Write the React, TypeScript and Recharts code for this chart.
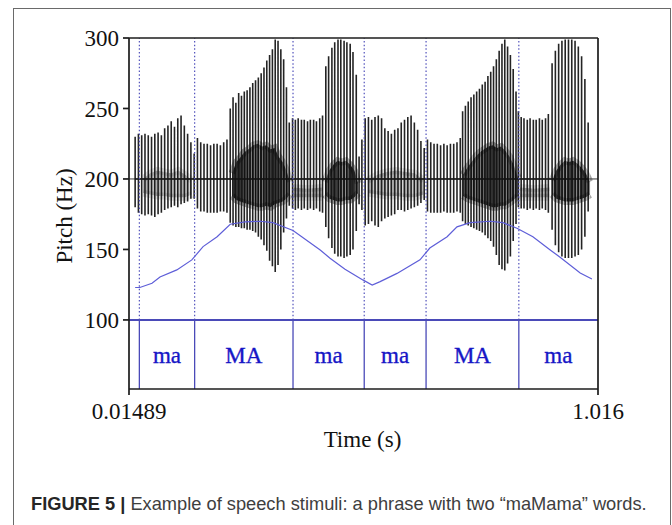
import React from 'react';
import {
  ComposedChart,
  Line,
  Area,
  XAxis,
  YAxis,
  ReferenceLine,
  ReferenceArea,
} from 'recharts';

// ---- axes ----
const timeStart = 0.01489;
const timeEnd = 1.016;
const xTickValues = [0.01489, 1.016];
const xTickLabels = ['0.01489', '1.016'];
const pitchTicks = [100, 150, 200, 250, 300];
const pitchTop = 300;
const pitchFloor = 51; // bottom of the tier strip, below the 100 Hz line
const tierLine = 100;
const waveZero = 200;

// ---- TextGrid tier (interval boundaries in s, labels) ----
const tierBounds = [0.037, 0.155, 0.365, 0.517, 0.649, 0.847];
const tierLabels = ['ma', 'MA', 'ma', 'ma', 'MA', 'ma'];

// ---- pitch contour (time in ms, F0 in Hz) ----
const contourMs = [
  28, 38, 64, 81, 117, 149, 173, 203, 231, 263, 295, 322, 365, 423, 444, 476,
  514, 534, 551, 587, 636, 657, 694, 715, 743, 786, 813, 843, 877, 914, 935, 978, 1003,
];
const contourHz = [
  123, 123, 126, 130.5, 135.5, 142.6, 152, 159, 167.9, 169.5, 170, 169, 163.5, 149.6, 143.8, 136,
  128.4, 124.8, 127.2, 133, 142.6, 151, 159, 166, 169, 170, 169, 165, 159, 149.6, 144.5, 133.3, 129,
];

// ---- waveform pulses: time (ms), upper and lower excursion in axis units ----
const pulseMs = [
  28, 35, 42, 49, 56, 63, 70, 77, 84, 91, 98,
  105, 112, 119, 126, 133, 140, 147, 154,
  161, 168, 175, 182, 189, 196, 203, 210, 217, 224,
  231, 237, 243, 249, 255, 261, 267, 273, 279, 285, 291, 297, 303, 309, 315, 321, 327, 333, 339, 345, 351, 357,
  364, 370, 376, 383, 389, 396, 402, 409, 415, 422, 428,
  435, 441, 448, 454, 461, 467, 474, 480, 487, 493, 500, 506,
  512, 519, 526, 533, 540, 547, 554,
  561, 568, 575, 582,
  589, 596, 603, 610, 617, 624, 631, 638, 645,
  652, 659, 666, 673, 680, 687, 694, 701, 708, 715, 722,
  727, 733, 739, 745, 751, 757, 763, 769, 775, 781, 787, 793, 799, 805, 811, 817, 823, 829, 835, 841, 846,
  852, 858, 865, 871, 878, 884, 891, 897, 904, 910,
  918, 925, 932, 939, 946, 953, 960, 967, 974, 981, 988, 995,
];
const pulseTop = [
  230, 232, 231, 232, 231, 230, 232, 233, 231, 236, 238,
  241, 237, 243, 245, 238, 232, 226, 218,
  229, 226, 225, 225, 224, 225, 225, 224, 226, 228,
  250, 258, 254, 261, 259, 262, 263, 265, 268, 270, 272, 275, 279, 284, 288, 292, 299, 298, 292, 285, 265, 240,
  243, 242, 243, 242, 242, 241, 242, 242, 241, 243, 245,
  280, 287, 293, 297, 299, 299, 298, 297, 296, 290, 274, 216,
  228, 243, 244, 242, 244, 245, 243,
  236, 234, 232, 235,
  236, 240, 242, 244, 245, 240, 235, 227, 222,
  228, 226, 225, 225, 224, 225, 224, 225, 225, 226, 229,
  248, 252, 255, 258, 260, 262, 264, 267, 269, 273, 276, 280, 285, 291, 296, 299, 294, 288, 278, 262, 248,
  244, 243, 242, 243, 242, 242, 243, 242, 243, 246,
  282, 291, 296, 298, 299, 299, 299, 298, 294, 287, 271, 240,
];
const pulseBottom = [
  180, 176, 175, 174, 175, 174, 173, 175, 176, 178, 179,
  180, 181, 180, 182, 183, 184, 186, 186,
  179, 177, 177, 176, 176, 176, 176, 177, 177, 176,
  169, 167, 166, 166, 165, 165, 164, 164, 163, 162, 159, 157, 153, 149, 142, 138, 134, 139, 150, 162, 172, 181,
  179, 178, 179, 178, 179, 178, 179, 178, 179, 177, 176,
  166, 158, 151, 147, 145, 145, 144, 145, 146, 150, 163, 182,
  178, 167, 168, 170, 167, 166, 170,
  172, 173, 174, 175,
  178, 178, 177, 178, 179, 180, 181, 183, 185,
  177, 176, 176, 176, 176, 177, 176, 176, 176, 177, 176,
  170, 168, 167, 166, 165, 164, 163, 162, 160, 158, 156, 152, 146, 139, 136, 135, 140, 145, 156, 168, 180,
  179, 179, 178, 179, 178, 179, 178, 179, 178, 176,
  164, 153, 148, 145, 144, 144, 144, 145, 146, 150, 159, 177,
];

// ---- dense inner part of the waveform (ms, upper, lower) ----
const coreMs = [
  [45, 60, 75, 90, 105, 120, 135, 149],
  [235, 244, 252, 261, 270, 280, 290, 299, 308, 317, 326, 334, 343, 351, 358],
  [364, 395, 428],
  [433, 442, 451, 460, 469, 478, 487, 496, 504],
  [525, 545, 565, 585, 605, 625, 644],
  [728, 737, 746, 755, 764, 773, 782, 791, 800, 809, 818, 827, 836, 845],
  [850, 880, 912],
  [918, 927, 936, 945, 954, 963, 972, 981, 990, 999],
];
const coreTop = [
  [200, 204, 206, 205, 204, 206, 203, 199],
  [204, 212, 215, 219, 221, 224, 225, 223, 224, 221, 222, 216, 212, 206, 198],
  [194, 193, 194],
  [198, 206, 210, 213, 212, 213, 210, 206, 197],
  [199, 203, 205, 206, 205, 204, 199],
  [203, 208, 212, 216, 219, 221, 223, 224, 222, 223, 220, 216, 210, 201],
  [194, 193, 194],
  [199, 206, 210, 213, 212, 213, 211, 208, 204, 198],
];
const coreBottom = [
  [190, 189, 188, 188, 187, 187, 187, 189],
  [188, 185, 184, 183, 182, 181, 180, 180, 181, 180, 182, 183, 184, 186, 189],
  [187, 187, 187],
  [189, 186, 185, 184, 184, 185, 185, 187, 190],
  [190, 189, 188, 188, 187, 187, 189],
  [188, 186, 185, 184, 183, 182, 181, 180, 180, 181, 181, 183, 185, 188],
  [187, 187, 187],
  [189, 186, 185, 184, 184, 184, 185, 186, 187, 189],
];
const coreShade = [0.35, 0.95, 0.35, 0.95, 0.35, 0.95, 0.35, 0.95];

const serif = "'Liberation Serif', 'Times New Roman', Times, serif";
const tierBlue = '#4a4ab8';

function PitchTitle(props: any) {
  const vb = props.viewBox || { x: 69, y: 38, width: 60, height: 351 };
  const x = vb.x + 2.5;
  const y = vb.y + vb.height / 2 + 2.5;
  return (
    <text
      x={x}
      y={y}
      transform={`rotate(-90 ${x} ${y})`}
      textAnchor="middle"
      fontFamily={serif}
      fontSize={23}
      fill="#111"
    >
      Pitch (Hz)
    </text>
  );
}

function TimeTitle(props: any) {
  const vb = props.viewBox || { x: 129, y: 389, width: 469, height: 30 };
  return (
    <text
      x={vb.x + vb.width / 2 - 1}
      y={vb.y + vb.height + 28}
      textAnchor="middle"
      fontFamily={serif}
      fontSize={23}
      fill="#111"
    >
      Time (s)
    </text>
  );
}

export default function App() {
  const pulseRows: { t: number; v: number }[] = [];
  pulseMs.forEach((ms, i) => {
    const t = ms / 1000;
    pulseRows.push(
      { t, v: waveZero },
      { t, v: pulseTop[i] },
      { t, v: pulseBottom[i] },
      { t, v: waveZero },
    );
  });
  const contourRows = contourMs.map((ms, i) => ({ t: ms / 1000, hz: contourHz[i] }));
  const cores = coreMs.map((list, k) =>
    list.map((ms, i) => ({ t: ms / 1000, band: [coreBottom[k][i], coreTop[k][i]] })),
  );
  const edges = [...tierBounds, timeEnd];
  const axisStroke = { stroke: '#1c1c1c', strokeWidth: 1.7 };

  return (
    <div
      style={{
        position: 'absolute',
        left: 0,
        top: 0,
        width: 672,
        height: 525,
        overflow: 'hidden',
        background: '#fff',
      }}
    >
      <div
        style={{
          position: 'absolute',
          left: 13,
          top: 8,
          width: 658,
          height: 540,
          border: '1.5px solid #6a6a6a',
          boxSizing: 'border-box',
        }}
      />
      <div style={{ position: 'absolute', left: 0, top: 0 }}>
        <ComposedChart
          width={672}
          height={470}
          margin={{ top: 38, right: 74, bottom: 51, left: 69 }}
        >
          <defs>
            <pattern id="voicedCore" patternUnits="userSpaceOnUse" width="2.6" height="4">
              <rect x="0" y="0" width="2.6" height="4" fill="#000" fillOpacity="0.38" />
              <rect x="0" y="0" width="1.5" height="4" fill="#000" fillOpacity="0.85" />
            </pattern>
          </defs>
          <XAxis
            type="number"
            dataKey="t"
            domain={[timeStart, timeEnd]}
            ticks={xTickValues}
            tickFormatter={(_v: number, i: number) => xTickLabels[i]}
            interval={0}
            allowDataOverflow
            height={30}
            axisLine={axisStroke}
            tickLine={axisStroke}
            tickSize={6}
            tickMargin={8}
            tick={{ fill: '#111', fontSize: 23, fontFamily: serif }}
            label={<TimeTitle />}
          />
          <YAxis
            type="number"
            domain={[pitchFloor, pitchTop]}
            ticks={pitchTicks}
            interval={0}
            allowDataOverflow
            width={60}
            axisLine={axisStroke}
            tickLine={axisStroke}
            tickSize={6}
            tickMargin={4}
            tick={{ fill: '#111', fontSize: 23, fontFamily: serif }}
            label={<PitchTitle />}
          />

          <ReferenceLine y={waveZero} stroke="#3a3a3a" strokeWidth={1} />

          <Line
            data={pulseRows}
            dataKey="v"
            type="linear"
            stroke="#0c0c0c"
            strokeWidth={1.6}
            strokeOpacity={0.9}
            strokeLinejoin="bevel"
            dot={false}
            activeDot={false}
            isAnimationActive={false}
          />

          {cores.map((rows, k) => (
            <Area
              key={`core-${k}`}
              data={rows}
              dataKey="band"
              type="linear"
              stroke="url(#voicedCore) #333"
              strokeWidth={7}
              strokeOpacity={0.45 * coreShade[k]}
              fill="url(#voicedCore) #222"
              fillOpacity={coreShade[k]}
              isAnimationActive={false}
              dot={false}
              activeDot={false}
            />
          ))}

          {tierBounds.map((t) => (
            <ReferenceLine
              key={`dot-${t}`}
              segment={[
                { x: t, y: tierLine },
                { x: t, y: pitchTop },
              ]}
              stroke="#5252bc"
              strokeWidth={1.2}
              strokeDasharray="1.5 2.2"
            />
          ))}
          {tierBounds.map((t) => (
            <ReferenceLine
              key={`bound-${t}`}
              segment={[
                { x: t, y: pitchFloor },
                { x: t, y: tierLine },
              ]}
              stroke={tierBlue}
              strokeWidth={1.3}
            />
          ))}
          <ReferenceLine y={tierLine} stroke={tierBlue} strokeWidth={2} />

          <Line
            data={contourRows}
            dataKey="hz"
            type="linear"
            stroke="#5e5ed8"
            strokeWidth={1.2}
            dot={false}
            activeDot={false}
            isAnimationActive={false}
          />

          {tierLabels.map((lab, i) => (
            <ReferenceArea
              key={`lab-${i}`}
              x1={edges[i]}
              x2={edges[i + 1]}
              y1={pitchFloor}
              y2={tierLine}
              fill="none"
              stroke="none"
              label={{
                value: lab,
                position: 'center',
                fill: '#1616c6',
                stroke: '#1616c6',
                strokeWidth: 0.35,
                fontSize: 23,
                fontFamily: serif,
              }}
            />
          ))}

          <ReferenceLine y={pitchTop} stroke="#1c1c1c" strokeWidth={1.7} />
          <ReferenceLine x={timeEnd} stroke="#1c1c1c" strokeWidth={1.7} />
        </ComposedChart>
      </div>
      <div
        style={{
          position: 'absolute',
          left: 31,
          top: 495,
          fontFamily: "'Liberation Sans', Arial, Helvetica, sans-serif",
          fontSize: 18.25,
          lineHeight: '18px',
          color: '#3e3e3e',
          whiteSpace: 'nowrap',
        }}
      >
        <span style={{ fontWeight: 700, color: '#262626' }}>FIGURE 5 | </span>
        Example of speech stimuli: a phrase with two “maMama” words.
      </div>
    </div>
  );
}
